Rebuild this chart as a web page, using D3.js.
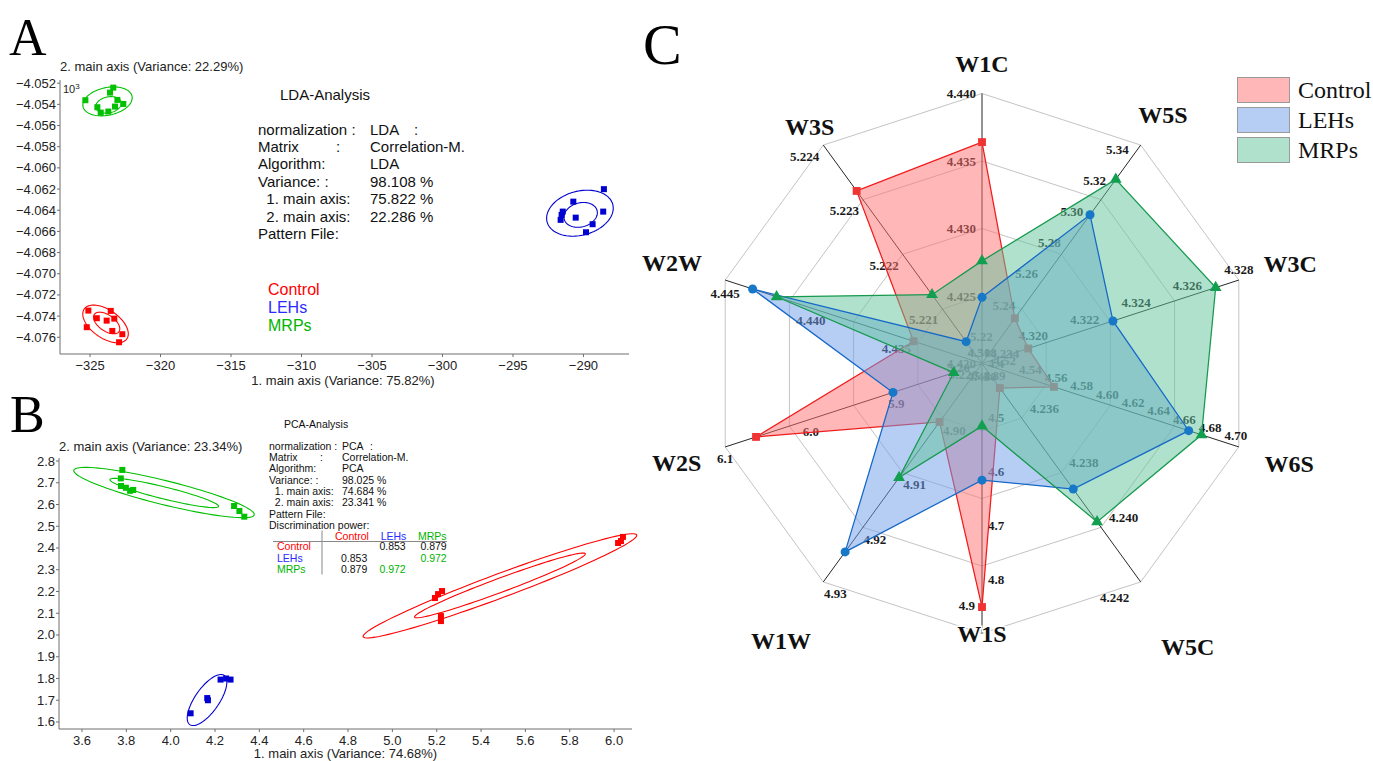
<!DOCTYPE html>
<html>
<head>
<meta charset="utf-8">
<script src="https://cdn.jsdelivr.net/npm/d3@7"></script>
<style>
  html, body { margin: 0; padding: 0; background: #fff; }
  svg { display: block; }
</style>
</head>
<body>
<svg id="chart" width="1373" height="761"></svg>
<script>
// ===================== DATA =====================
const groups = ["Control", "LEHs", "MRPs"];

// ---- Panel A: LDA scores (x: 1. main axis, y: 2. main axis, x10^3) ----
const ldaXTicks = [-325, -320, -315, -310, -305, -300, -295, -290];
const ldaYTicks = [-4.052, -4.054, -4.056, -4.058, -4.060, -4.062, -4.064, -4.066, -4.068, -4.070, -4.072, -4.074, -4.076];
const ldaControl = [[-325.12, -4.07348], [-323.53, -4.07351], [-324.52, -4.07420], [-323.82, -4.07443], [-323.28, -4.07424],
                    [-325.23, -4.07505], [-323.42, -4.07540], [-322.71, -4.07571], [-322.94, -4.07647]];
const ldaLEHs = [[-288.55, -4.06201], [-290.72, -4.06319], [-291.47, -4.06413], [-291.55, -4.06444], [-291.62, -4.06491],
                 [-290.55, -4.06470], [-288.60, -4.06413], [-289.35, -4.06532], [-289.82, -4.06608]];
const ldaMRPs = [[-325.33, -4.05361], [-323.35, -4.05242], [-323.58, -4.05289], [-323.06, -4.05358], [-322.64, -4.05396],
                 [-323.23, -4.05421], [-323.70, -4.05468], [-324.24, -4.05478], [-324.48, -4.05427]];
// confidence ellipses: centre + two semi-axis vectors, in data units
const ldaEllipses = [
  { group: "MRPs",    cx: -323.76, cy: -4.05372, ax: 1.738, ay: 0.000491,  bx: 0.206,  by: -0.001275 },
  { group: "MRPs",    cx: -323.69, cy: -4.05405, ax: 0.900, ay: 0.000255,  bx: 0.118,  by: -0.000737 },
  { group: "Control", cx: -323.90, cy: -4.07474, ax: 1.511, ay: -0.001408, bx: -0.569, by: -0.001086 },
  { group: "Control", cx: -323.82, cy: -4.07465, ax: 0.872, ay: -0.000812, bx: -0.326, by: -0.000619 },
  { group: "LEHs",    cx: -290.25, cy: -4.06428, ax: 2.328, ay: 0.000831,  bx: 0.404,  by: -0.002008 },
  { group: "LEHs",    cx: -290.20, cy: -4.06444, ax: 1.165, ay: 0.000416,  bx: 0.220,  by: -0.001096 }
];
const ldaInfoLabels = ["normalization :", "Matrix", "Algorithm:", "Variance: :", "  1. main axis:", "  2. main axis:", "Pattern File:"];
const ldaInfoValues = ["LDA", "Correlation-M.", "LDA", "98.108 %", "75.822 %", "22.286 %", ""];

// ---- Panel B: PCA scores ----
const pcaXTicks = [3.6, 3.8, 4.0, 4.2, 4.4, 4.6, 4.8, 5.0, 5.2, 5.4, 5.6, 5.8, 6.0];
const pcaYTicks = [2.8, 2.7, 2.6, 2.5, 2.4, 2.3, 2.2, 2.1, 2.0, 1.9, 1.8, 1.7, 1.6];
const pcaControl = [[6.040, 2.451], [6.031, 2.432], [6.018, 2.423], [5.224, 2.202], [5.206, 2.188], [5.192, 2.170],
                    [5.219, 2.087], [5.219, 2.064]];
const pcaLEHs = [[4.090, 1.640], [4.165, 1.710], [4.168, 1.700], [4.225, 1.795], [4.250, 1.800], [4.270, 1.795]];
const pcaMRPs = [[3.782, 2.759], [3.775, 2.720], [3.776, 2.685], [3.798, 2.677], [3.817, 2.663], [3.831, 2.667],
                 [4.286, 2.593], [4.310, 2.570], [4.332, 2.544]];
const pcaEllipses = [
  { group: "MRPs",    cx: 3.970, cy: 2.655, ax: 0.407,  ay: -0.1025, bx: -0.0130, by: -0.0536 },
  { group: "MRPs",    cx: 3.971, cy: 2.653, ax: 0.245,  ay: -0.0617, bx: -0.0065, by: -0.0267 },
  { group: "Control", cx: 5.485, cy: 2.226, ax: 0.617,  ay: 0.2340,  bx: 0.0189,  by: -0.0517 },
  { group: "Control", cx: 5.485, cy: 2.228, ax: 0.385,  ay: 0.1458,  bx: 0.0110,  by: -0.0302 },
  { group: "LEHs",    cx: 4.164, cy: 1.701, ax: 0.0776, ay: 0.1130,  bx: 0.0443,  by: -0.0317 }
];
const pcaInfoLabels = ["normalization :", "Matrix", "Algorithm:", "Variance: :", "  1. main axis:", "  2. main axis:", "Pattern File:", "Discrimination power:"];
const pcaInfoValues = ["PCA", "Correlation-M.", "PCA", "98.025 %", "74.684 %", "23.341 %", "", ""];
// discrimination power matrix (row group vs column group)
const discPower = [[null, 0.853, 0.879], [0.853, null, 0.972], [0.879, 0.972, null]];

// ---- Panel C: electronic-nose sensor radar ----
const radarCats = ["W1C", "W5S", "W3C", "W6S", "W5C", "W1S", "W1W", "W2S", "W2W", "W3S"];
const radarMin  = [4.420, 5.20, 4.318, 4.50, 4.234, 4.4, 4.89, 5.8, 4.430, 5.220];
const radarMax  = [4.440, 5.34, 4.328, 4.70, 4.242, 4.9, 4.93, 6.1, 4.445, 5.224];
const radarStep = [0.005, 0.02, 0.002, 0.02, 0.002, 0.1, 0.01, 0.1, 0.005, 0.001];
const radarControl = [4.4364, 5.229, 4.3198, 4.556, 4.2349, 4.851, 4.9007, 6.064, 4.4340, 5.22316];
const radarLEHs    = [4.4249, 5.2953, 4.3231, 4.661, 4.2386, 4.616, 4.9245, 5.904, 4.4434, 5.2204];
const radarMRPs    = [4.4276, 5.318, 4.3271, 4.671, 4.2398, 4.516, 4.9109, 5.833, 4.4420, 5.22126];

// ===================== DRAWING =====================
const svg = d3.select("#chart");
const SANS = "'Liberation Sans', Arial, sans-serif";
const SERIF = "'Liberation Serif', 'Times New Roman', serif";
const scatterColor = { Control: "#ff0000", LEHs: "#0000d0", MRPs: "#00c000" };
const infoColor = { Control: "#ff0000", LEHs: "#2b2bff", MRPs: "#00b400" };

function ellipsePath(e, x, y) {
  const pts = d3.range(0, 97).map(i => {
    const t = i / 96 * 2 * Math.PI;
    return [x(e.cx + Math.cos(t) * e.ax + Math.sin(t) * e.bx),
            y(e.cy + Math.cos(t) * e.ay + Math.sin(t) * e.by)];
  });
  return d3.line()(pts) + "Z";
}

function scatterPanel(cfg) {
  const g = svg.append("g");
  const x = cfg.x, y = cfg.y;
  const [x0, x1] = x.range(), [y0, y1] = y.range();
  // axes
  g.append("path").attr("d", `M${x0},${y1}V${y0}H${x1}`)
    .attr("fill", "none").attr("stroke", "#6e6e6e").attr("stroke-width", 1);
  // y ticks
  cfg.yTicks.forEach(v => {
    g.append("line").attr("x1", x0 - 3).attr("x2", x0).attr("y1", y(v)).attr("y2", y(v))
      .attr("stroke", "#6e6e6e");
    g.append("text").attr("x", x0 - 4).attr("y", y(v) + 4.5).attr("text-anchor", "end")
      .attr("font-family", SANS).attr("font-size", cfg.tickSize).attr("fill", "#222")
      .text(cfg.yFormat(v));
  });
  // x ticks
  cfg.xTicks.forEach(v => {
    g.append("line").attr("x1", x(v)).attr("x2", x(v)).attr("y1", y0).attr("y2", y0 + 3)
      .attr("stroke", "#6e6e6e");
    g.append("text").attr("x", x(v)).attr("y", y0 + cfg.xLabelDy).attr("text-anchor", "middle")
      .attr("font-family", SANS).attr("font-size", cfg.tickSize).attr("fill", "#222")
      .text(cfg.xFormat(v));
  });
  g.append("text").attr("x", (x0 + x1) / 2 + cfg.xTitleShift).attr("y", y0 + cfg.xTitleDy)
    .attr("text-anchor", "middle").attr("font-family", SANS).attr("font-size", 13).attr("fill", "#222")
    .text(cfg.xTitle);
  g.append("text").attr("x", x0).attr("y", y1 - cfg.yTitleDy)
    .attr("font-family", SANS).attr("font-size", 13).attr("fill", "#222")
    .text(cfg.yTitle);
  // ellipses
  cfg.ellipses.forEach(e => {
    g.append("path").attr("d", ellipsePath(e, x, y)).attr("fill", "none")
      .attr("stroke", scatterColor[e.group]).attr("stroke-width", 1.1);
  });
  // points
  const s = cfg.markSize;
  cfg.series.forEach(([name, pts]) => {
    g.selectAll(null).data(pts).enter().append("rect")
      .attr("x", d => x(d[0]) - s / 2).attr("y", d => y(d[1]) - s / 2)
      .attr("width", s).attr("height", s).attr("fill", scatterColor[name]);
  });
  return g;
}

// ---------- Panel A ----------
const xA = d3.scaleLinear().domain([-327.13, -286.77]).range([60, 629]);
const yA = d3.scaleLinear().domain([-4.07758, -4.0517]).range([354, 80]);
const gA = scatterPanel({
  x: xA, y: yA, xTicks: ldaXTicks, yTicks: ldaYTicks,
  xFormat: d3.format("d"), yFormat: d3.format(".3f"),
  tickSize: 13, xLabelDy: 16, xTitleDy: 31, xTitleShift: -1.5, yTitleDy: 9,
  xTitle: "1. main axis (Variance: 75.82%)", yTitle: "2. main axis (Variance: 22.29%)",
  ellipses: ldaEllipses, markSize: 6,
  series: [["Control", ldaControl], ["LEHs", ldaLEHs], ["MRPs", ldaMRPs]]
});
gA.append("text").attr("x", 63).attr("y", 93).attr("font-family", SANS).attr("font-size", 11)
  .attr("fill", "#222").text("10").append("tspan").attr("dy", -4).attr("font-size", 8).text("3");
gA.append("text").attr("x", 280).attr("y", 99.5).attr("font-family", SANS).attr("font-size", 15)
  .attr("fill", "#111").text("LDA-Analysis");
ldaInfoLabels.forEach((lab, i) => {
  const by = 134.5 + i * 17.45;
  gA.append("text").attr("x", 258).attr("y", by).attr("font-family", SANS).attr("font-size", 15)
    .attr("fill", "#111").style("white-space", "pre").text(lab);
  gA.append("text").attr("x", 370).attr("y", by).attr("font-family", SANS).attr("font-size", 15)
    .attr("fill", "#111").text(ldaInfoValues[i]);
});
gA.append("text").attr("x", 336).attr("y", 134.5 + 17.45).attr("font-family", SANS).attr("font-size", 15).attr("fill", "#111").text(":");
gA.append("text").attr("x", 414).attr("y", 134.5).attr("font-family", SANS).attr("font-size", 15).attr("fill", "#111").text(":");
groups.forEach((name, i) => {
  gA.append("text").attr("x", 268).attr("y", 295 + i * 18).attr("font-family", SANS).attr("font-size", 16)
    .attr("fill", infoColor[name]).text(name);
});

// ---------- Panel B ----------
const xB = d3.scaleLinear().domain([3.4963, 6.0808]).range([59, 632]);
const yB = d3.scaleLinear().domain([1.5678, 2.8138]).range([729, 458]);
const gB = scatterPanel({
  x: xB, y: yB, xTicks: pcaXTicks, yTicks: pcaYTicks,
  xFormat: d3.format(".1f"), yFormat: d3.format(".1f"),
  tickSize: 13, xLabelDy: 16, xTitleDy: 29, xTitleShift: 0, yTitleDy: 7,
  xTitle: "1. main axis (Variance: 74.68%)", yTitle: "2. main axis (Variance: 23.34%)",
  ellipses: pcaEllipses, markSize: 6,
  series: [["Control", pcaControl], ["LEHs", pcaLEHs], ["MRPs", pcaMRPs]]
});
const fsB = 10.5;
gB.append("text").attr("x", 284).attr("y", 428).attr("font-family", SANS).attr("font-size", fsB)
  .attr("fill", "#111").text("PCA-Analysis");
pcaInfoLabels.forEach((lab, i) => {
  const by = 449.7 + i * 11.3;
  gB.append("text").attr("x", 269).attr("y", by).attr("font-family", SANS).attr("font-size", fsB)
    .attr("fill", "#111").style("white-space", "pre").text(lab);
  gB.append("text").attr("x", 342).attr("y", by).attr("font-family", SANS).attr("font-size", fsB)
    .attr("fill", "#111").text(pcaInfoValues[i]);
});
gB.append("text").attr("x", 320).attr("y", 449.7 + 11.3).attr("font-family", SANS).attr("font-size", fsB).attr("fill", "#111").text(":");
gB.append("text").attr("x", 370).attr("y", 449.7).attr("font-family", SANS).attr("font-size", fsB).attr("fill", "#111").text(":");
// discrimination table
const colRight = [367.3, 405.7, 446.7];
const headerX = [335, 380.7, 418];
const hdrY = 539.7;
groups.forEach((name, j) => {
  gB.append("text").attr("x", headerX[j]).attr("y", hdrY).attr("font-family", SANS).attr("font-size", fsB)
    .attr("fill", infoColor[name]).text(name);
});
gB.append("line").attr("x1", 273).attr("x2", 447).attr("y1", 541.5).attr("y2", 541.5).attr("stroke", "#888").attr("stroke-width", 1);
gB.append("line").attr("x1", 322).attr("x2", 322).attr("y1", 530.5).attr("y2", 574.5).attr("stroke", "#888").attr("stroke-width", 1);
groups.forEach((name, i) => {
  const by = 550.4 + i * 11.3;
  gB.append("text").attr("x", 277).attr("y", by).attr("font-family", SANS).attr("font-size", fsB)
    .attr("fill", infoColor[name]).text(name);
  discPower[i].forEach((v, j) => {
    if (v === null) return;
    const greenCell = (i === 1 && j === 2) || (i === 2 && j === 1);
    gB.append("text").attr("x", colRight[j]).attr("y", by).attr("text-anchor", "end")
      .attr("font-family", SANS).attr("font-size", fsB).attr("fill", greenCell ? infoColor.MRPs : "#111")
      .text(d3.format(".3f")(v));
  });
});

// ---------- Panel letters ----------
[["A", 9, 55], ["B", 10, 432], ["C", 643, 64]].forEach(([t, px, py], i) => {
  svg.append("text").attr("x", px).attr("y", py).attr("font-family", SERIF)
    .attr("font-size", i === 2 ? 58 : 52).attr("fill", "#000").text(t);
});

// ---------- Panel C: radar ----------
const RC = { cx: 982, cy: 363.5, r: 270, rings: 4 };
const nAx = radarCats.length;
const ang = i => i * 2 * Math.PI / nAx;
const axisScales = radarCats.map((c, i) => d3.scaleLinear().domain([radarMin[i], radarMax[i]]).range([0, RC.r]));
const pt = (i, rad) => [RC.cx + rad * Math.sin(ang(i)), RC.cy - rad * Math.cos(ang(i))];
const gC = svg.append("g");

// grid rings
d3.range(1, RC.rings + 1).forEach(k => {
  const rr = RC.r * k / RC.rings;
  gC.append("path").attr("d", d3.line()(radarCats.map((c, i) => pt(i, rr))) + "Z")
    .attr("fill", "none").attr("stroke", "#c4c4c4").attr("stroke-width", 1);
});
// spokes
radarCats.forEach((c, i) => {
  const [ex, ey] = pt(i, RC.r);
  gC.append("line").attr("x1", RC.cx).attr("y1", RC.cy).attr("x2", ex).attr("y2", ey)
    .attr("stroke", "#262626").attr("stroke-width", 1);
});
// per-axis tick label placement: anchor, dx, dy
const tickLabelLayout = [
  ["end", -6, 4.5], ["end", -12, 8.5], ["middle", 0, -6.5], ["middle", -3, -6.5], ["start", 8, -5.5],
  ["start", 6, 4.5], ["middle", 12, 16.5], ["middle", 0, 16.5], ["middle", 0, 17.5], ["end", -4, 15.5]
];
// a few outer labels are nudged clear of the category names
const tickLabelOverride = { "W1S:5": ["end", -7, -24], "W5C:4": ["middle", -26, 20] };
radarCats.forEach((c, i) => {
  const nT = Math.round((radarMax[i] - radarMin[i]) / radarStep[i]);
  const dec = Math.max(0, Math.ceil(-Math.log10(radarStep[i]) - 1e-9));
  d3.range(0, nT + 1).forEach(k => {
    const [anc, dx, dy] = tickLabelOverride[c + ":" + k] || tickLabelLayout[i];
    const v = radarMin[i] + k * radarStep[i];
    const [tx, ty] = pt(i, axisScales[i](v));
    gC.append("text").attr("x", tx + dx).attr("y", ty + dy).attr("text-anchor", anc)
      .attr("font-family", SERIF).attr("font-weight", "bold").attr("font-size", 13)
      .attr("fill", "#1a1a1a").text(v.toFixed(dec));
  });
});

const radarSeries = [
  { name: "Control", vals: radarControl, fill: "#ff7070", line: "#f01c1c", mark: "#f03434", sym: d3.symbolSquare, size: 62 },
  { name: "LEHs",    vals: radarLEHs,    fill: "#6d9bea", line: "#1568c8", mark: "#1878c8", sym: d3.symbolCircle, size: 64 },
  { name: "MRPs",    vals: radarMRPs,    fill: "#62c49c", line: "#16994e", mark: "#12a050", sym: d3.symbolTriangle, size: 60 }
];
const FILL_OP = 0.5;
const polyPts = s => s.vals.map((v, i) => pt(i, axisScales[i](v)));
function drawFill(s) {
  gC.append("path").attr("d", d3.line()(polyPts(s)) + "Z").attr("fill", s.fill).attr("fill-opacity", FILL_OP).attr("stroke", "none");
}
function drawOutline(s) {
  gC.append("path").attr("d", d3.line()(polyPts(s)) + "Z").attr("fill", "none").attr("stroke", s.line).attr("stroke-width", 1.25);
  gC.selectAll(null).data(polyPts(s)).enter().append("path")
    .attr("transform", d => `translate(${d[0]},${d[1]})`)
    .attr("d", d3.symbol().type(s.sym).size(s.size)).attr("fill", s.mark);
}
drawFill(radarSeries[0]); drawOutline(radarSeries[0]);
drawFill(radarSeries[1]); drawFill(radarSeries[2]);
drawOutline(radarSeries[1]); drawOutline(radarSeries[2]);

// category labels (white backing keeps the bottom name readable over the spoke tip)
const catLabelDist = [300, 308, 324, 323, 350, 270, 342, 321, 326, 293];
radarCats.forEach((c, i) => {
  const [lx, ly] = pt(i, catLabelDist[i]);
  gC.append("text").attr("x", lx).attr("y", ly + 8.5).attr("text-anchor", "middle")
    .attr("font-family", SERIF).attr("font-weight", "bold").attr("font-size", 24)
    .attr("fill", "#111").attr("stroke", "#fff").attr("stroke-width", 3).attr("paint-order", "stroke").text(c);
});

// legend
radarSeries.forEach((s, i) => {
  const ly = 77 + i * 30;
  gC.append("rect").attr("x", 1237).attr("y", ly).attr("width", 53).attr("height", 26)
    .attr("fill", "#fff");
  gC.append("rect").attr("x", 1237.5).attr("y", ly + 0.5).attr("width", 52).attr("height", 25)
    .attr("fill", s.fill).attr("fill-opacity", FILL_OP).attr("stroke", "#9a9a9a").attr("stroke-width", 1);
  gC.append("text").attr("x", 1298).attr("y", ly + 21).attr("font-family", SERIF).attr("font-size", 24)
    .attr("fill", "#111").text(s.name);
});
</script>
</body>
</html>
